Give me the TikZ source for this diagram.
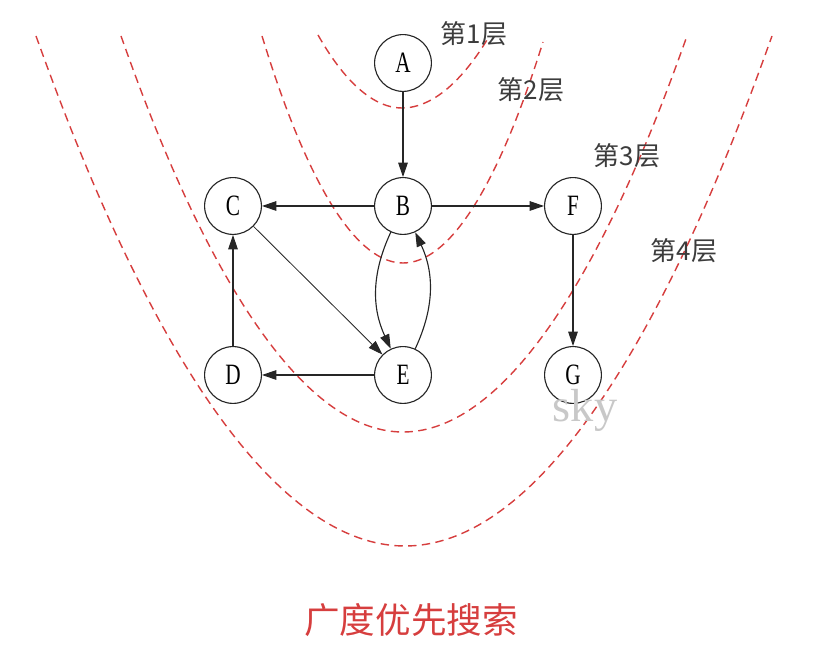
\documentclass[tikz,border=0pt]{standalone}
\usepackage{fontspec}
\setmainfont{Liberation Serif}
\newfontfamily\cjk{Noto Sans CJK SC}
\newfontfamily\narrowserif[FakeStretch=0.72]{Liberation Serif}
\usetikzlibrary{arrows.meta}
\definecolor{layerred}{RGB}{214,62,62}
\definecolor{edgegray}{RGB}{38,38,38}
\definecolor{labelgray}{RGB}{60,60,60}
\definecolor{markgray}{RGB}{200,200,200}

\begin{document}
\begin{tikzpicture}[x=0.025cm,y=0.025cm,
  vertex/.style={circle,draw=edgegray,line width=0.8pt,minimum size=1.42cm,inner sep=0pt,
    font=\narrowserif\fontsize{21}{21}\selectfont},
  edge/.style={draw=edgegray,line width=0.8pt,-{Triangle[length=0.36cm,width=0.24cm]}},
  layer/.style={draw=layerred,line width=1pt,dash pattern=on 6pt off 3.8pt}]
\useasboundingbox (0,0) rectangle (818,650);
\draw[layer] (318,615) parabola bend (402,542) (487,610);
\draw[layer] (262,614) parabola bend (403,387) (543,608);
\draw[layer] (121,614) parabola bend (403,218) (687,614);
\draw[layer] (36,614) parabola bend (405,104) (772,614);
\node[vertex] (A) at (403,587) {A};
\node[vertex] (B) at (403,444) {B};
\node[vertex] (C) at (233,444) {C};
\node[vertex] (F) at (573,444) {F};
\node[vertex] (D) at (233,275) {D};
\node[vertex] (E) at (403,275) {E};
\node[vertex] (G) at (573,275) {G};
\draw[edge] (A)--(B);
\draw[edge] (B)--(C);
\draw[edge] (B)--(F);
\draw[edge] (F)--(G);
\draw[edge] (D)--(C);
\draw[edge] (E)--(D);
\draw[edge,line width=0.6pt] (C)--(E);
\draw[edge] (B) to[bend right=25] (E);
\draw[edge] (E) to[bend right=25] (B);
\foreach \k/\x/\y in {1/474/616,2/531/560,3/627/494,4/684/399}
  \node[text=labelgray,font=\cjk\fontsize{18.5}{18.5}\selectfont] (L\k) at (\x,\y) {第\k 层};
\node[text=markgray,font=\fontsize{33}{33}\selectfont] (mark) at (585,240) {sky};
\node[text=layerred,font=\cjk\fontsize{25.3}{25.3}\selectfont] (title) at (411,30) {广度优先搜索};
\end{tikzpicture}
\end{document}
